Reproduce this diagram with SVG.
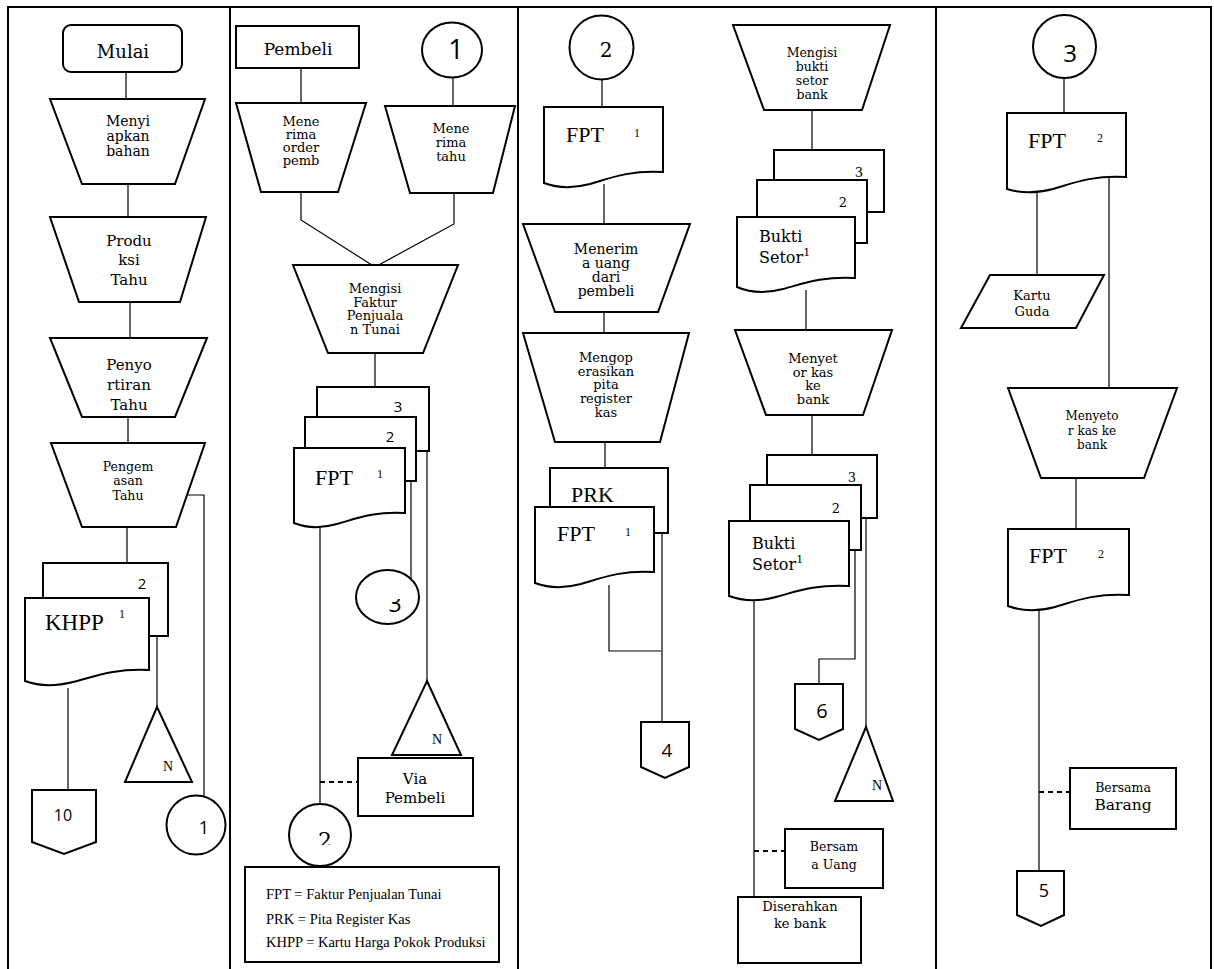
<svg xmlns="http://www.w3.org/2000/svg" width="1214" height="969" viewBox="0 0 1214 969">
<style>
.s{fill:#fff;stroke:#000;stroke-width:2}
.c{fill:none;stroke:#000;stroke-width:1.2}
.d{fill:none;stroke:#000;stroke-width:2;stroke-dasharray:5 4}
.f{fill:none;stroke:#000;stroke-width:2}
text{fill:#000}
.b{font-family:"DejaVu Serif","Liberation Serif",serif;text-anchor:middle}
.bl{font-family:"DejaVu Serif","Liberation Serif",serif}
.tm{font-family:"Liberation Serif",serif}
.n{font-family:"Open Sans","Liberation Sans",sans-serif;text-anchor:middle}
</style>
<defs>
<clipPath id="clip3"><rect x="370" y="599" width="40" height="30"/></clipPath>
<clipPath id="clip2"><rect x="300" y="815" width="40" height="30"/></clipPath>
</defs>
<rect width="1214" height="969" fill="#fff"/>
<g id="frame">
<path class="f" d="M7,7 H1212 M8,7 V969 M230,7 V969 M518,7 V969 M936,7 V969 M1211,7 V969"/>
</g>
<g id="connectors">
<path class="c" d="M126,72 V99 M128,184 V217 M130,302 V338 M128,417 V443 M188,495 H204 V797 M127,527 V563 M157,636 V707 M68,688 V790"/>
<path class="c" d="M301,68 V103 M453,78 V106 M301,192 V220 L375,267 M454,193 V224 L375,267 M375,353 V387 M320,527 V804 M411,481 V579 M427,451 V681"/>
<path class="d" d="M320,782 H358"/>
<path class="c" d="M602,79 V107 M604,184 V224 M604,312 V333 M605,442 V468 M609,585 V651 H661 M662,533 V722"/>
<path class="c" d="M812,110 V150 M806,290 V330 M812,415 V455 M855,550 V659 H819 V684 M866,518 V727 M754,600 V897"/>
<path class="d" d="M754,851 H785"/>
<path class="c" d="M1064,78 V113 M1037,193 V275 M1109,178 V388 M1076,478 V529 M1039,608 V871"/>
<path class="d" d="M1039,792 H1070"/>
</g>
<g id="mulai">
<rect class="s" x="63" y="25" width="119" height="47" rx="8"/>
<text class="b" x="123" y="58" font-size="18">Mulai</text>
</g>
<g id="menyiapkan">
<polygon class="s" points="50,99 205,99 175,184 82,184"/>
<text class="b" font-size="14"><tspan x="128" y="126">Menyi</tspan><tspan x="128" y="141">apkan</tspan><tspan x="128" y="156">bahan</tspan></text>
</g>
<g id="produksi">
<polygon class="s" points="50,217 206,217 180,302 79,302"/>
<text class="b" font-size="15"><tspan x="129" y="246">Produ</tspan><tspan x="129" y="265">ksi</tspan><tspan x="129" y="285">Tahu</tspan></text>
</g>
<g id="penyortiran">
<polygon class="s" points="50,338 207,338 175,417 82,417"/>
<text class="b" font-size="15"><tspan x="129" y="370">Penyo</tspan><tspan x="129" y="390">rtiran</tspan><tspan x="129" y="410">Tahu</tspan></text>
</g>
<g id="pengemasan">
<polygon class="s" points="51,443 205,443 176,527 82,527"/>
<text class="b" font-size="12.5"><tspan x="128" y="471">Pengem</tspan><tspan x="128" y="485">asan</tspan><tspan x="128" y="500">Tahu</tspan></text>
</g>
<g id="khpp">
<rect class="s" x="43" y="563" width="125" height="73"/>
<text class="n" x="142" y="589" font-size="15">2</text>
<path class="s" d="M25,598 H149 V670 C114,668 93,677 73,682 C57,686 41,687 25,681 Z"/>
<text class="tm" x="45" y="630" font-size="23">KHPP</text>
<text class="tm" x="119" y="618" font-size="12">1</text>
</g>
<g id="n1">
<polygon class="s" points="157,707 192,782 125,782"/>
<text class="tm" x="168" y="771" font-size="14" text-anchor="middle">N</text>
</g>
<g id="off10">
<polygon class="s" points="32,790 96,790 96,842 64,854 32,842"/>
<text class="n" x="63" y="821" font-size="16">10</text>
</g>
<g id="con1a">
<circle class="s" cx="196" cy="825" r="29.5"/>
<text class="n" x="204" y="834" font-size="18">1</text>
</g>
<g id="pembeli">
<rect class="s" x="236" y="26" width="123" height="42"/>
<text class="b" x="298" y="55" font-size="17">Pembeli</text>
</g>
<g id="con1b">
<ellipse class="s" cx="452" cy="50" rx="30" ry="27.5"/>
<text class="n" x="456" y="59" font-size="27">1</text>
</g>
<g id="menerimaorder">
<polygon class="s" points="236,103 366,103 338,192 261,192"/>
<text class="b" font-size="13"><tspan x="301" y="126">Mene</tspan><tspan x="301" y="139">rima</tspan><tspan x="301" y="152">order</tspan><tspan x="301" y="165">pemb</tspan></text>
</g>
<g id="menerimatahu">
<polygon class="s" points="385,106 515,106 493,193 410,193"/>
<text class="b" font-size="13"><tspan x="451" y="133">Mene</tspan><tspan x="451" y="147">rima</tspan><tspan x="451" y="161">tahu</tspan></text>
</g>
<g id="mengisifaktur">
<polygon class="s" points="293,265 458,265 423,353 328,353"/>
<text class="b" font-size="13"><tspan x="375" y="293">Mengisi</tspan><tspan x="375" y="307">Faktur</tspan><tspan x="375" y="320">Penjuala</tspan><tspan x="375" y="334">n Tunai</tspan></text>
</g>
<g id="fptstack">
<rect class="s" x="317" y="387" width="112" height="64"/>
<text class="n" x="398" y="412" font-size="15">3</text>
<rect class="s" x="305" y="417" width="111" height="64"/>
<text class="n" x="390" y="442" font-size="15">2</text>
<path class="s" d="M294,448 H405 V513 C374,511 355,519 337,524 C323,528 309,529 294,523 Z"/>
<text class="tm" x="315" y="485" font-size="22">FPT</text>
<text class="tm" x="380" y="478" font-size="12" text-anchor="middle">1</text>
</g>
<g id="con3a">
<ellipse class="s" cx="387.5" cy="597" rx="31.5" ry="27"/>
<text class="n" x="395" y="612" font-size="23" clip-path="url(#clip3)">3</text>
</g>
<g id="n2">
<polygon class="s" points="427,681 461,755 392,755"/>
<text class="tm" x="437" y="744" font-size="14" text-anchor="middle">N</text>
</g>
<g id="viapembeli">
<rect class="s" x="358" y="758" width="115" height="58"/>
<text class="b" font-size="15"><tspan x="415" y="784">Via</tspan><tspan x="415" y="803">Pembeli</tspan></text>
</g>
<g id="con2a">
<circle class="s" cx="320" cy="835" r="31"/>
<text class="b" x="325" y="848" font-size="22" clip-path="url(#clip2)">2</text>
</g>
<g id="legend">
<rect class="s" x="245" y="867" width="254" height="95"/>
<text class="tm" font-size="14.5"><tspan x="266" y="899">FPT = Faktur Penjualan Tunai</tspan><tspan x="266" y="924">PRK = Pita Register Kas</tspan><tspan x="266" y="947">KHPP = Kartu Harga Pokok Produksi</tspan></text>
</g>
<g id="con2b">
<circle class="s" cx="601.5" cy="47.5" r="32"/>
<text class="b" x="606" y="57" font-size="20">2</text>
</g>
<g id="fpt3">
<path class="s" d="M544,107 H663 V172 C630,170 610,178 590,184 C575,188 560,189 544,183 Z"/>
<text class="tm" x="566" y="142" font-size="22">FPT</text>
<text class="tm" x="637" y="137" font-size="12" text-anchor="middle">1</text>
</g>
<g id="menerimauang">
<polygon class="s" points="523,224 690,224 658,312 555,312"/>
<text class="b" font-size="14"><tspan x="606" y="254">Menerim</tspan><tspan x="606" y="268">a uang</tspan><tspan x="606" y="282">dari</tspan><tspan x="606" y="296">pembeli</tspan></text>
</g>
<g id="mengoperasikan">
<polygon class="s" points="523,333 689,333 660,442 555,442"/>
<text class="b" font-size="13"><tspan x="606" y="362">Mengop</tspan><tspan x="606" y="376">erasikan</tspan><tspan x="606" y="389">pita</tspan><tspan x="606" y="403">register</tspan><tspan x="606" y="417">kas</tspan></text>
</g>
<g id="prkfpt">
<rect class="s" x="550" y="468" width="118" height="65"/>
<text class="tm" x="571" y="502" font-size="22">PRK</text>
<path class="s" d="M535,507 H654 V572 C621,570 601,578 581,584 C566,588 551,589 535,583 Z"/>
<text class="tm" x="557" y="541" font-size="22">FPT</text>
<text class="tm" x="628" y="536" font-size="12" text-anchor="middle">1</text>
</g>
<g id="off4">
<polygon class="s" points="641,722 689,722 689,767 665,778 641,767"/>
<text class="n" x="667" y="757" font-size="19">4</text>
</g>
<g id="mengisibukti">
<polygon class="s" points="733,25 890,25 862,110 764,110"/>
<text class="b" font-size="12.5"><tspan x="812" y="57">Mengisi</tspan><tspan x="812" y="71">bukti</tspan><tspan x="812" y="85">setor</tspan><tspan x="812" y="99">bank</tspan></text>
</g>
<g id="bukti1">
<rect class="s" x="774" y="150" width="110" height="62"/>
<text class="b" x="859" y="177" font-size="13">3</text>
<rect class="s" x="757" y="180" width="110" height="63"/>
<text class="b" x="843" y="207" font-size="13">2</text>
<path class="s" d="M737,217 H855 V278 C822,276 802,284 783,289 C768,293 753,294 737,287 Z"/>
<text class="bl" font-size="16"><tspan x="759" y="242">Bukti</tspan><tspan x="759" y="263">Setor<tspan font-size="11" dy="-7">1</tspan></tspan></text>
</g>
<g id="menyetor1">
<polygon class="s" points="735,330 892,330 863,415 766,415"/>
<text class="b" font-size="13"><tspan x="813" y="363">Menyet</tspan><tspan x="813" y="377">or kas</tspan><tspan x="813" y="390">ke</tspan><tspan x="813" y="404">bank</tspan></text>
</g>
<g id="bukti2">
<rect class="s" x="767" y="455" width="110" height="63"/>
<text class="b" x="852" y="482" font-size="13">3</text>
<rect class="s" x="750" y="485" width="111" height="65"/>
<text class="b" x="836" y="513" font-size="13">2</text>
<path class="s" d="M729,521 H849 V586 C815,584 795,592 776,597 C761,601 745,602 729,596 Z"/>
<text class="bl" font-size="16"><tspan x="752" y="549">Bukti</tspan><tspan x="752" y="570">Setor<tspan font-size="11" dy="-7">1</tspan></tspan></text>
</g>
<g id="off6">
<polygon class="s" points="795,684 843,684 843,729 819,740 795,729"/>
<text class="n" x="822" y="718" font-size="20">6</text>
</g>
<g id="n3">
<polygon class="s" points="866,727 893,801 835,801"/>
<text class="tm" x="877" y="790" font-size="14" text-anchor="middle">N</text>
</g>
<g id="bersamauang">
<rect class="s" x="785" y="829" width="98" height="59"/>
<text class="b" font-size="12.5"><tspan x="834" y="851">Bersam</tspan><tspan x="834" y="869">a Uang</tspan></text>
</g>
<g id="diserahkan">
<rect class="s" x="738" y="897" width="123" height="66"/>
<text class="b" font-size="13"><tspan x="800" y="911">Diserahkan</tspan><tspan x="800" y="928">ke bank</tspan></text>
</g>
<g id="con3b">
<circle class="s" cx="1064.5" cy="46.5" r="31.5"/>
<text class="n" x="1070" y="62" font-size="24">3</text>
</g>
<g id="fpt2a">
<path class="s" d="M1007,113 H1126 V177 C1093,175 1073,183 1053,189 C1038,193 1023,194 1007,189 Z"/>
<text class="tm" x="1028" y="148" font-size="22">FPT</text>
<text class="tm" x="1100" y="142" font-size="12" text-anchor="middle">2</text>
</g>
<g id="kartugudang">
<polygon class="s" points="990,275 1104,275 1076,328 961,328"/>
<text class="b" font-size="13"><tspan x="1032" y="300">Kartu</tspan><tspan x="1032" y="316">Guda</tspan></text>
</g>
<g id="menyetor2">
<polygon class="s" points="1008,388 1177,388 1144,478 1041,478"/>
<text class="b" font-size="12"><tspan x="1092" y="420">Menyeto</tspan><tspan x="1092" y="435">r kas ke</tspan><tspan x="1092" y="449">bank</tspan></text>
</g>
<g id="fpt2b">
<path class="s" d="M1008,529 H1129 V595 C1095,593 1075,601 1055,607 C1040,611 1024,612 1008,606 Z"/>
<text class="tm" x="1029" y="563" font-size="22">FPT</text>
<text class="tm" x="1101" y="558" font-size="12" text-anchor="middle">2</text>
</g>
<g id="bersamabarang">
<rect class="s" x="1070" y="768" width="106" height="61"/>
<text class="b" x="1123" y="792" font-size="12.5">Bersama</text>
<text class="b" x="1123" y="810" font-size="15.5">Barang</text>
</g>
<g id="off5">
<polygon class="s" points="1017,871 1064,871 1064,915 1041,926 1017,915"/>
<text class="n" x="1044" y="897" font-size="18">5</text>
</g>
</svg>
